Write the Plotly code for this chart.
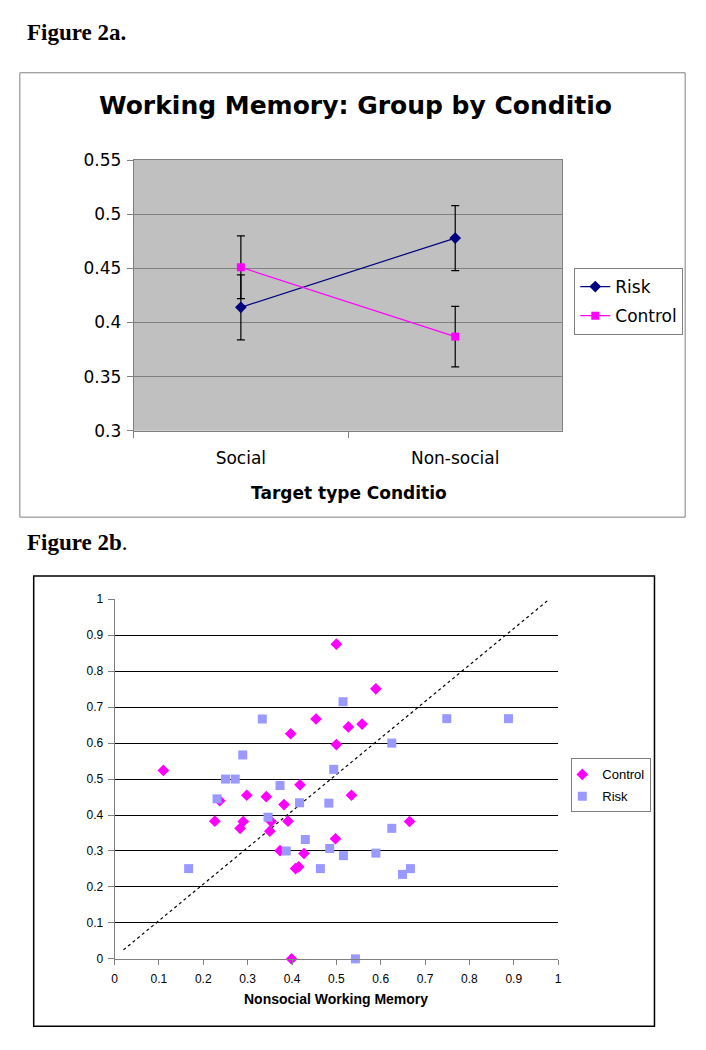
import plotly.graph_objects as go

# ---------------- Data ----------------
# Figure 2a: Working memory by group and target-type condition
conditions = ["Social", "Non-social"]
risk_means = [0.414, 0.478]
risk_err = [0.030, 0.030]
control_means = [0.451, 0.387]
control_err = [0.029, 0.028]
top_yticks = [0.3, 0.35, 0.4, 0.45, 0.5, 0.55]
top_yticklabels = ["0.3", "0.35", "0.4", "0.45", "0.5", "0.55"]

# Figure 2b: Nonsocial (x) vs social (y) working memory
control_x = [0.110, 0.226, 0.237, 0.283, 0.290, 0.298, 0.342, 0.350, 0.353, 0.373,
             0.382, 0.391, 0.397, 0.399, 0.408, 0.415, 0.418, 0.427, 0.454, 0.498,
             0.500, 0.500, 0.527, 0.534, 0.558, 0.589, 0.665]
control_y = [0.524, 0.383, 0.440, 0.363, 0.382, 0.455, 0.451, 0.355, 0.382, 0.301,
             0.429, 0.383, 0.626, 0.000, 0.251, 0.256, 0.484, 0.293, 0.667, 0.334,
             0.875, 0.596, 0.645, 0.455, 0.653, 0.751, 0.382]
risk_x = [0.167, 0.231, 0.250, 0.272, 0.289, 0.333, 0.346, 0.373, 0.387, 0.417,
          0.430, 0.464, 0.483, 0.485, 0.494, 0.515, 0.516, 0.543, 0.589, 0.625,
          0.625, 0.649, 0.667, 0.749, 0.888]
risk_y = [0.251, 0.445, 0.500, 0.500, 0.567, 0.667, 0.394, 0.482, 0.300, 0.434,
          0.332, 0.251, 0.433, 0.307, 0.527, 0.715, 0.287, 0.000, 0.294, 0.600,
          0.363, 0.235, 0.251, 0.668, 0.668]
diag_x = [0.02, 0.98]
diag_y = [0.025, 1.0]
bot_ticks = [0, 0.1, 0.2, 0.3, 0.4, 0.5, 0.6, 0.7, 0.8, 0.9, 1]
bot_ticklabels = ["0", "0.1", "0.2", "0.3", "0.4", "0.5", "0.6", "0.7", "0.8", "0.9", "1"]

# ---------------- Layout helpers ----------------
W, H = 706, 1050
def px(x):
    return x / W
def py(y):
    return 1 - y / H

TOPF = "DejaVu Sans, Verdana, sans-serif"
BOTF = "Liberation Sans, Arial, sans-serif"
SERIF = "Liberation Serif, Times New Roman, serif"

fig = go.Figure()

# ---- Top chart traces ----
fig.add_trace(go.Scatter(
    x=conditions, y=risk_means, name="Risk", mode="lines+markers",
    line=dict(color="#000080", width=1.2),
    marker=dict(symbol="diamond", size=9, color="#000080"),
    error_y=dict(type="data", array=risk_err, color="black", thickness=1.2, width=4),
    xaxis="x", yaxis="y", legend="legend", legendgroup="r", cliponaxis=False))
fig.add_trace(go.Scatter(
    x=conditions, y=control_means, name="Control", mode="lines+markers",
    line=dict(color="#ff00ff", width=1.2),
    marker=dict(symbol="square", size=8, color="#ff00ff"),
    error_y=dict(type="data", array=control_err, color="black", thickness=1.2, width=4),
    xaxis="x", yaxis="y", legend="legend", legendgroup="c", cliponaxis=False))

# ---- Bottom chart traces ----
fig.add_trace(go.Scatter(
    x=diag_x, y=diag_y, mode="lines", showlegend=False,
    line=dict(color="black", width=1.2, dash="dot"),
    xaxis="x2", yaxis="y2", hoverinfo="skip"))
fig.add_trace(go.Scatter(
    x=control_x, y=control_y, name="Control", mode="markers",
    marker=dict(symbol="diamond", size=9, color="#ff00ff"),
    xaxis="x2", yaxis="y2", legend="legend2", legendgroup="c2", cliponaxis=False))
fig.add_trace(go.Scatter(
    x=risk_x, y=risk_y, name="Risk", mode="markers",
    marker=dict(symbol="square", size=9, color="#9999ff"),
    xaxis="x2", yaxis="y2", legend="legend2", legendgroup="r2", cliponaxis=False))

fig.update_layout(
    width=W, height=H,
    margin=dict(l=0, r=0, t=0, b=0),
    paper_bgcolor="white",
    plot_bgcolor="white",
    showlegend=True,
    # top chart axes
    xaxis=dict(
        domain=[px(132), px(565)], anchor="y",
        type="category", range=[-0.5, 1.5],
        tickson="boundaries", ticks="outside", ticklen=6, tickcolor="#808080",
        showline=True, linecolor="#808080", linewidth=1, mirror=True,
        showgrid=False, zeroline=False,
        tickfont=dict(family=TOPF, size=17, color="black"),
        ticklabelstandoff=12,
    ),
    yaxis=dict(
        domain=[py(429), py(153)], anchor="x",
        range=[0.3, 0.55], tickvals=top_yticks, ticktext=top_yticklabels,
        ticks="outside", ticklen=6, tickcolor="#808080",
        showline=True, linecolor="#808080", linewidth=1, mirror=True,
        showgrid=True, gridcolor="#808080", gridwidth=1, zeroline=False,
        tickfont=dict(family=TOPF, size=17, color="black"),
        ticklabelstandoff=2,
    ),
    # bottom chart axes
    xaxis2=dict(
        domain=[px(112.7), px(560.7)], anchor="y2",
        range=[0, 1], tickvals=bot_ticks, ticktext=bot_ticklabels,
        ticks="outside", ticklen=5, tickcolor="#808080",
        showline=True, linecolor="#808080", linewidth=1,
        showgrid=False, zeroline=False,
        tickfont=dict(family=BOTF, size=12, color="black"),
        ticklabelstandoff=4,
    ),
    yaxis2=dict(
        domain=[py(967.3), py(600.7)], anchor="x2",
        range=[0, 1], tickvals=bot_ticks, ticktext=bot_ticklabels,
        ticks="outside", ticklen=6, tickcolor="#808080",
        showline=True, linecolor="#808080", linewidth=1,
        showgrid=True, gridcolor="black", gridwidth=1, zeroline=False,
        tickfont=dict(family=BOTF, size=12, color="black"),
        ticklabelstandoff=2,
    ),
    legend=dict(
        x=px(577), y=py(263), xanchor="left", yanchor="top",
        bgcolor="white", bordercolor="#808080", borderwidth=1,
        font=dict(family=TOPF, size=17, color="black"),
        traceorder="grouped", tracegroupgap=4,
    ),
    legend2=dict(
        x=px(574), y=py(763), xanchor="left", yanchor="top",
        bgcolor="white", bordercolor="#808080", borderwidth=1,
        font=dict(family=BOTF, size=13, color="black"),
        traceorder="grouped", tracegroupgap=2, itemwidth=30, indentation=-10,
    ),
)

# top chart background (grey plot area)
fig.add_shape(type="rect", xref="x domain", yref="y domain", x0=0, x1=1, y0=0, y1=1,
              fillcolor="#c0c0c0", line=dict(width=0), layer="below")

# outer frames
fig.add_shape(type="rect", xref="paper", yref="paper",
              x0=px(17), x1=px(689), y0=py(517), y1=py(64),
              line=dict(color="#808080", width=1), fillcolor="rgba(0,0,0,0)", layer="below")
fig.add_shape(type="rect", xref="paper", yref="paper",
              x0=px(31), x1=px(658), y0=py(1036), y1=py(577),
              line=dict(color="black", width=1.5), fillcolor="rgba(0,0,0,0)", layer="below")

annotations = [
    dict(text="<b>Figure 2a.</b>", x=px(22), y=py(23), xanchor="left", yanchor="middle",
         font=dict(family=SERIF, size=23, color="black")),
    dict(text="<b>Figure 2b</b>.", x=px(22), y=py(543), xanchor="left", yanchor="middle",
         font=dict(family=SERIF, size=23, color="black")),
    dict(text="<b>Working Memory: Group by Conditio</b>", x=px(356), y=py(97),
         xanchor="center", yanchor="middle",
         font=dict(family=TOPF, size=25, color="black")),
    dict(text="<b>Target type Conditio</b>", x=px(349), y=py(492),
         xanchor="center", yanchor="middle",
         font=dict(family=TOPF, size=17, color="black")),
    dict(text="<b>Nonsocial Working Memory</b>", x=px(336), y=py(1008),
         xanchor="center", yanchor="middle",
         font=dict(family=BOTF, size=14, color="black")),
]
for a in annotations:
    a.update(xref="paper", yref="paper", showarrow=False)
fig.update_layout(annotations=annotations)

fig.write_html("out.html", config={"displayModeBar": False},
               post_script="document.body.style.margin='0';document.body.style.padding='0';")
